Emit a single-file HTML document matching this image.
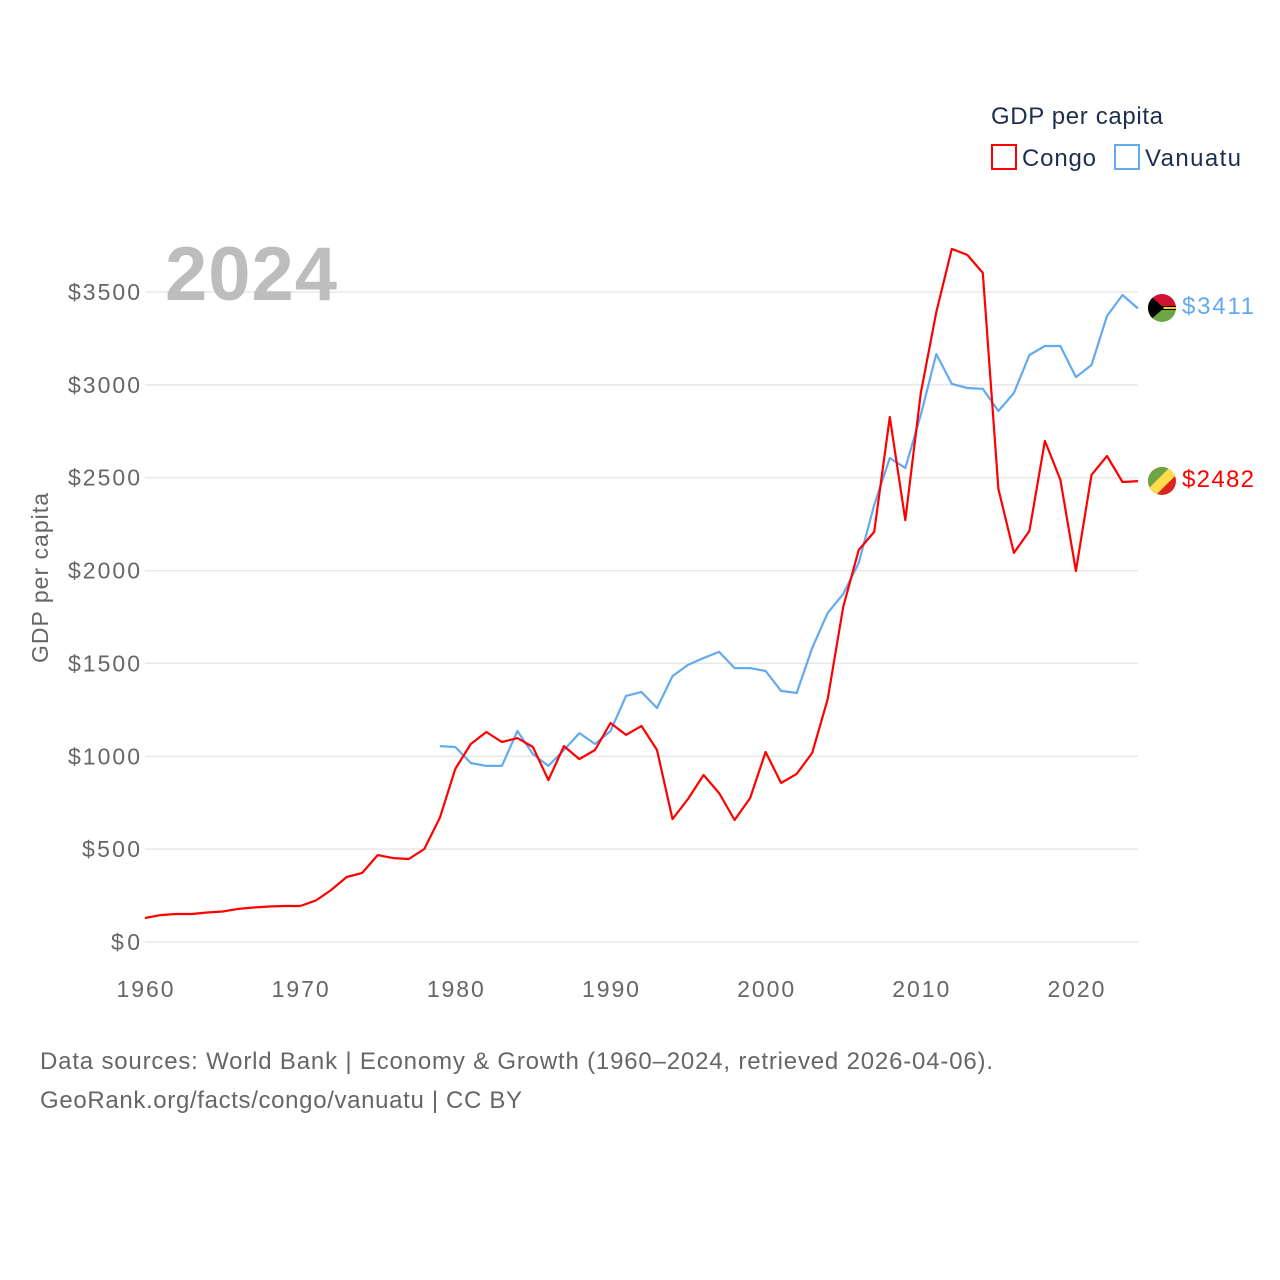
<!DOCTYPE html>
<html><head><meta charset="utf-8"><style>
body{margin:0;background:#fff;}
svg{display:block;font-family:"Liberation Sans",sans-serif;}
</style></head><body>
<svg id="chart" width="1280" height="1280" viewBox="0 0 1280 1280">
<g id="grid"></g>
<g id="yticks"></g>
<g id="xticks"></g>
<text x="48" y="578" transform="rotate(-90 48 578)" text-anchor="middle" font-size="23" fill="#666" textLength="170">GDP per capita</text>
<text x="165" y="300" font-size="76" font-weight="bold" fill="#bdbdbd" textLength="172">2024</text>
<g id="series"></g>
<g>
<text x="991" y="124" font-size="24" fill="#1d2f4f" textLength="172">GDP per capita</text>
<g><rect x="992" y="145" width="24" height="24" fill="none" stroke="#ff0000" stroke-width="2"/><text x="1022" y="166" font-size="24" fill="#1d2f4f" textLength="74">Congo</text></g>
<g><rect x="1115" y="145" width="24" height="24" fill="none" stroke="#63aaf0" stroke-width="2"/><text x="1145" y="166" font-size="24" fill="#1d2f4f" textLength="96">Vanuatu</text></g>
</g>
<defs>
<clipPath id="c1"><circle cx="1162" cy="308" r="14"/></clipPath>
<clipPath id="c2"><circle cx="1162" cy="481" r="14"/></clipPath>
</defs>
<g clip-path="url(#c1)">
<rect x="1148" y="294" width="28" height="14" fill="#d21034"/><rect x="1148" y="308" width="28" height="14" fill="#6ca544"/>
<rect x="1148" y="306" width="28" height="4" fill="#000"/><rect x="1148" y="307" width="28" height="2" fill="#fdce12"/>
<polygon points="1148,294 1164,308 1148,322" fill="#000"/>
</g>
<g clip-path="url(#c2)">
<rect x="1148" y="467" width="28" height="28" fill="#dc241f"/>
<polygon points="1148,467 1170,467 1148,489" fill="#6ca544"/>
<polygon points="1170,467 1178,467 1178,473 1154,497 1148,497 1148,489" fill="#fbde4a"/>
</g>
<text x="1182" y="314" font-size="24" fill="#63aaf0" textLength="72">$3411</text>
<text x="1182" y="487" font-size="24" fill="#ff0000" textLength="72">$2482</text>
<text x="40" y="1069" font-size="24" fill="#666" textLength="953">Data sources: World Bank | Economy &amp; Growth (1960–2024, retrieved 2026-04-06).</text>
<text x="40" y="1108" font-size="24" fill="#666" textLength="482">GeoRank.org/facts/congo/vanuatu | CC BY</text>
</svg>
<script>
const yTicks=[0,500,1000,1500,2000,2500,3000,3500];
const xTicks=[1960,1970,1980,1990,2000,2010,2020];
const congoStart=1960;
const congoValues=[129,145,151,151,159,164,178,186,191,194,194,223,280,350,372,468,452,447,501,668,932,1066,1131,1077,1098,1050,872,1055,985,1034,1179,1115,1163,1034,662,770,899,802,657,775,1023,856,905,1018,1308,1804,2111,2208,2827,2272,2956,3392,3732,3700,3603,2439,2095,2213,2698,2488,1998,2515,2617,2477,2482];
const vanuatuStart=1979;
const vanuatuValues=[1055,1050,964,948,948,1136,1012,948,1034,1125,1066,1136,1325,1346,1260,1432,1492,1529,1562,1475,1475,1459,1352,1341,1583,1772,1874,2041,2353,2606,2552,2838,3166,3005,2983,2978,2859,2956,3161,3209,3209,3042,3107,3371,3484,3411];
const NS='http://www.w3.org/2000/svg';
const X=yr=>145+(yr-1960)*(1138-145)/64;
const Y=v=>942-v*650/3500;
function mk(tag,attrs,parent,txt){const e=document.createElementNS(NS,tag);for(const k in attrs)e.setAttribute(k,attrs[k]);if(txt!==undefined)e.textContent=txt;parent.appendChild(e);return e;}
const grid=document.getElementById('grid'),yt=document.getElementById('yticks'),xt=document.getElementById('xticks'),ser=document.getElementById('series');
yTicks.forEach(v=>{
 const l=mk('line',{x1:145,x2:1138,y1:Y(v),y2:Y(v),stroke:'#e8e8e8','stroke-width':1.5},grid);
 
 
 const s='$'+v;
 const t=mk('text',{x:140,y:Y(v)+8,'text-anchor':'end','font-size':23,fill:'#666',textLength:(s.length*14.4).toFixed(0)},yt,s);
 
 
});
xTicks.forEach(yr=>{
 const t=mk('text',{x:X(yr),y:997,'text-anchor':'middle','font-size':23,fill:'#666',textLength:57},xt,String(yr));
 
 
});
function line(vals,start,color,name){
 const pts=vals.map((v,i)=>X(start+i).toFixed(1)+','+Y(v).toFixed(1)).join(' ');
 const p=mk('polyline',{points:pts,fill:'none',stroke:color,'stroke-width':2.2,'stroke-linejoin':'round'},ser);
 
 
}
line(vanuatuValues,vanuatuStart,'#63aaf0','vanuatu-line');
line(congoValues,congoStart,'#ff0000','congo-line');
</script>
</body></html>
